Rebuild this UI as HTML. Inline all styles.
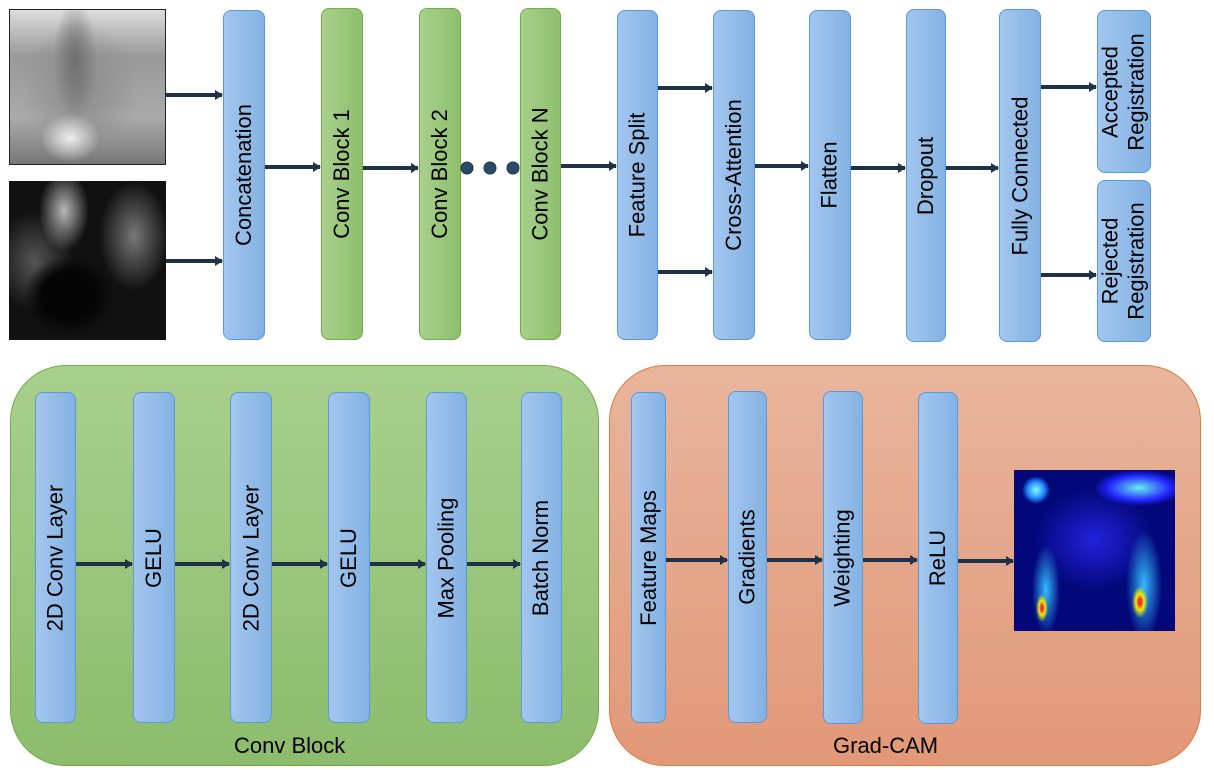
<!DOCTYPE html>
<html><head><meta charset="utf-8"><style>
body{margin:0;width:1214px;height:770px;background:#fff;position:relative;overflow:hidden;font-family:"Liberation Sans",sans-serif}
.b{position:absolute;box-sizing:border-box;border:1.5px solid #5b9bd5;border-radius:8px;background:linear-gradient(90deg,#a3c6ee,#83b2e3);display:flex;align-items:center;justify-content:center}
.g{border-color:#70ad47;background:linear-gradient(90deg,#a8d08d,#8dbf6c)}
.b span{transform:rotate(-90deg);white-space:nowrap;font-size:22px;color:#000;text-align:center;line-height:26px}
.p{position:absolute;box-sizing:border-box;border-radius:56px}
.lbl{position:absolute;font-size:22px;color:#000}
svg{position:absolute;left:0;top:0}
</style></head><body>
<div style="position:absolute;left:9px;top:9px;width:157px;height:156px;border:1.5px solid #222;box-sizing:border-box;background:radial-gradient(ellipse 30px 24px at 60px 128px,#eee,transparent),radial-gradient(ellipse 22px 60px at 65px 50px,#6f6f6f,transparent),radial-gradient(ellipse 60px 70px at 70px 80px,#8a8a8a,transparent),linear-gradient(180deg,#ddd,#999 30%,#aaa 70%,#777)"></div>
<div style="position:absolute;left:9px;top:181px;width:157px;height:159px;background:radial-gradient(ellipse 45px 40px at 60px 115px,#050505 60%,transparent),radial-gradient(ellipse 25px 40px at 55px 30px,#b8b8b8,transparent),radial-gradient(ellipse 35px 55px at 125px 55px,#777,transparent),radial-gradient(ellipse 40px 50px at 25px 80px,#555,transparent),#111"></div>

<div class="b" style="left:223px;top:10px;width:42px;height:330px"><span>Concatenation</span></div>
<div class="b g" style="left:321px;top:8px;width:42px;height:332px"><span>Conv Block 1</span></div>
<div class="b g" style="left:419px;top:8px;width:42px;height:332px"><span>Conv Block 2</span></div>
<div class="b g" style="left:520px;top:8px;width:41px;height:332px"><span>Conv Block N</span></div>
<div class="b" style="left:617px;top:10px;width:41px;height:330px"><span>Feature Split</span></div>
<div class="b" style="left:713px;top:10px;width:42px;height:330px"><span>Cross-Attention</span></div>
<div class="b" style="left:809px;top:10px;width:42px;height:330px"><span>Flatten</span></div>
<div class="b" style="left:906px;top:9px;width:40px;height:333px"><span>Dropout</span></div>
<div class="b" style="left:999px;top:9px;width:42px;height:333px"><span>Fully Connected</span></div>
<div class="b" style="left:1097px;top:10px;width:54px;height:163px"><span>Accepted<br>Registration</span></div>
<div class="b" style="left:1097px;top:180px;width:54px;height:162px"><span>Rejected<br>Registration</span></div>

<div class="p" style="left:10px;top:365px;width:589px;height:401px;border:1.5px solid #70ad47;background:linear-gradient(180deg,#a8d08d,#8cbc6c)"></div>
<div class="p" style="left:609px;top:365px;width:592px;height:401px;border:1.5px solid #e07a3f;background:linear-gradient(180deg,#e8b59c,#e19878)"></div>
<div class="lbl" style="left:234px;top:733px">Conv Block</div>
<div class="lbl" style="left:833px;top:733px">Grad-CAM</div>

<div class="b" style="left:35px;top:392px;width:41px;height:331px"><span>2D Conv Layer</span></div>
<div class="b" style="left:133px;top:392px;width:42px;height:331px"><span>GELU</span></div>
<div class="b" style="left:230px;top:392px;width:42px;height:331px"><span>2D Conv Layer</span></div>
<div class="b" style="left:328px;top:392px;width:42px;height:331px"><span>GELU</span></div>
<div class="b" style="left:426px;top:392px;width:41px;height:331px"><span>Max Pooling</span></div>
<div class="b" style="left:521px;top:392px;width:41px;height:331px"><span>Batch Norm</span></div>

<div class="b" style="left:631px;top:392px;width:35px;height:331px"><span>Feature Maps</span></div>
<div class="b" style="left:728px;top:391px;width:39px;height:332px"><span>Gradients</span></div>
<div class="b" style="left:823px;top:391px;width:40px;height:333px"><span>Weighting</span></div>
<div class="b" style="left:918px;top:392px;width:40px;height:332px"><span>ReLU</span></div>

<div style="position:absolute;left:1014px;top:470px;width:161px;height:161px;background:radial-gradient(ellipse 6px 14px at 28px 138px,#e33 20%,#ee0 50%,transparent),radial-gradient(ellipse 8px 16px at 126px 132px,#e33 20%,#ee0 50%,transparent),radial-gradient(ellipse 14px 45px at 32px 120px,#3bf,transparent),radial-gradient(ellipse 18px 55px at 130px 115px,#3bf,transparent),radial-gradient(ellipse 14px 14px at 22px 20px,#8ff,#28f 60%,transparent),radial-gradient(ellipse 45px 18px at 125px 18px,#6ee,#22f 70%,transparent),radial-gradient(ellipse 60px 50px at 80px 70px,#22d,transparent),#02087a"></div>

<svg width="1214" height="770">
<defs><marker id="a" markerWidth="8" markerHeight="10" refX="7" refY="5" orient="auto" markerUnits="userSpaceOnUse"><path d="M0,0 L8,5 L0,10z" fill="#1f3146"/></marker></defs>
<g stroke="#1f3146" stroke-width="4" marker-end="url(#a)">
<line x1="166" y1="95" x2="222" y2="95"/>
<line x1="166" y1="261" x2="222" y2="261"/>
<line x1="265" y1="167" x2="320" y2="167"/>
<line x1="363" y1="168" x2="418" y2="168"/>
<line x1="561" y1="166" x2="616" y2="166"/>
<line x1="658" y1="88" x2="712" y2="88"/>
<line x1="658" y1="272" x2="712" y2="272"/>
<line x1="755" y1="166" x2="808" y2="166"/>
<line x1="851" y1="168" x2="905" y2="168"/>
<line x1="946" y1="168" x2="998" y2="168"/>
<line x1="1041" y1="87" x2="1096" y2="87"/>
<line x1="1041" y1="275" x2="1096" y2="275"/>
<line x1="76" y1="564" x2="132" y2="564"/>
<line x1="175" y1="564" x2="229" y2="564"/>
<line x1="272" y1="564" x2="327" y2="564"/>
<line x1="370" y1="564" x2="425" y2="564"/>
<line x1="467" y1="564" x2="520" y2="564"/>
<line x1="666" y1="560" x2="727" y2="560"/>
<line x1="767" y1="560" x2="822" y2="560"/>
<line x1="863" y1="560" x2="917" y2="560"/>
<line x1="958" y1="561" x2="1013" y2="561"/>
</g>
<g fill="#2a4a68" stroke="#1f3146"><circle cx="467" cy="168" r="6"/><circle cx="490" cy="168" r="6"/><circle cx="513" cy="168" r="6"/></g>
</svg>
</body></html>
